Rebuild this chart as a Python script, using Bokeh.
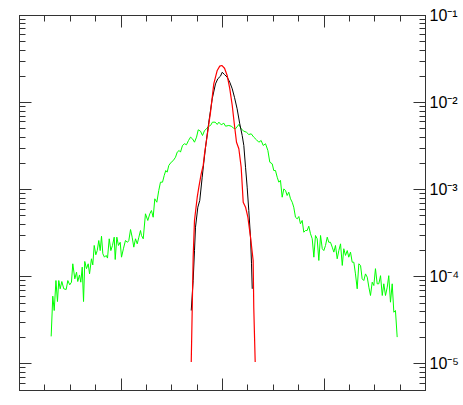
from bokeh.plotting import figure
from bokeh.models import (Range1d, LinearAxis, LogAxis, FixedTicker,
                          CustomJSTickFormatter)
from bokeh.embed import file_html
from bokeh.resources import INLINE

# ---- data ----
green_x = [-1.688, -1.672, -1.658, -1.641, -1.626, -1.613, -1.599, -1.583, -1.564, -1.540,
           -1.524, -1.505, -1.488, -1.475, -1.455, -1.438, -1.426, -1.409, -1.396, -1.382,
           -1.369, -1.357, -1.340, -1.323, -1.310, -1.291, -1.278, -1.264, -1.248, -1.234,
           -1.219, -1.205, -1.192, -1.179, -1.163, -1.146, -1.133, -1.116, -1.100, -1.084,
           -1.067, -1.057, -1.041, -1.025, -1.008, -0.995, -0.975, -0.956, -0.936, -0.923,
           -0.906, -0.890, -0.874, -0.857, -0.840, -0.824, -0.808, -0.798, -0.781, -0.759,
           -0.736, -0.716, -0.700, -0.683, -0.667, -0.647, -0.628, -0.611, -0.591, -0.574,
           -0.559, -0.545, -0.529, -0.505, -0.485, -0.463, -0.446, -0.427, -0.414, -0.394,
           -0.374, -0.355, -0.335, -0.315, -0.296, -0.276, -0.256, -0.239, -0.217, -0.197,
           -0.177, -0.158, -0.138, -0.118, -0.099, -0.072, -0.052, -0.036, -0.013, 0.013,
           0.030, 0.062, 0.086, 0.111, 0.128, 0.161, 0.184, 0.210, 0.236, 0.259,
           0.283, 0.308, 0.335, 0.358, 0.381, 0.401, 0.424, 0.447, 0.466, 0.490,
           0.505, 0.522, 0.539, 0.555, 0.571, 0.588, 0.604, 0.621, 0.637, 0.653,
           0.670, 0.687, 0.702, 0.719, 0.736, 0.752, 0.768, 0.785, 0.801, 0.818,
           0.834, 0.850, 0.867, 0.884, 0.900, 0.916, 0.933, 0.949, 0.966, 0.983,
           0.998, 1.015, 1.032, 1.047, 1.064, 1.081, 1.097, 1.113, 1.130, 1.146,
           1.163, 1.180, 1.195, 1.212, 1.229, 1.244, 1.261, 1.278, 1.294, 1.310,
           1.327, 1.343, 1.360, 1.376, 1.392, 1.409, 1.426, 1.442, 1.458, 1.475,
           1.491, 1.507, 1.524, 1.540, 1.557, 1.574, 1.589, 1.606, 1.623, 1.638,
           1.655, 1.672, 1.688, 1.704, 1.721]
green_y = [2.07e-5, 5.99e-5, 4.10e-5, 9.06e-5, 5.20e-5, 9.06e-5, 7.28e-5, 8.83e-5, 7.28e-5, 7.15e-5,
           9.06e-5, 8.09e-5, 8.67e-5, 1.41e-4, 9.48e-5, 1.13e-4, 8.83e-5, 1.05e-4, 8.67e-5, 1.29e-4,
           5.20e-5, 1.50e-4, 1.24e-4, 1.41e-4, 1.08e-4, 1.61e-4, 1.37e-4, 2.29e-4, 1.79e-4, 2.00e-4,
           2.61e-4, 2.00e-4, 2.92e-4, 1.84e-4, 1.68e-4, 1.76e-4, 1.64e-4, 2.73e-4, 2.00e-4, 2.29e-4,
           2.85e-4, 1.58e-4, 2.85e-4, 2.29e-4, 2.49e-4, 1.68e-4, 2.13e-4, 2.61e-4, 2.49e-4, 2.61e-4,
           3.49e-4, 2.85e-4, 2.19e-4, 2.73e-4, 2.39e-4, 2.85e-4, 3.40e-4, 2.98e-4, 2.73e-4, 5.29e-4,
           4.43e-4, 5.29e-4, 5.77e-4, 4.83e-4, 7.86e-4, 7.18e-4, 9.79e-4, 1.22e-3, 1.22e-3, 1.46e-3,
           1.66e-3, 1.59e-3, 1.90e-3, 2.07e-3, 2.16e-3, 2.36e-3, 2.70e-3, 2.82e-3, 2.70e-3, 3.22e-3,
           3.37e-3, 3.28e-3, 3.67e-3, 4.01e-3, 3.84e-3, 3.51e-3, 4.01e-3, 4.87e-3, 4.70e-3, 4.19e-3,
           4.78e-3, 5.00e-3, 5.32e-3, 5.46e-3, 5.96e-3, 5.96e-3, 5.61e-3, 5.96e-3, 5.56e-3, 5.80e-3,
           5.36e-3, 5.46e-3, 5.36e-3, 5.08e-3, 5.00e-3, 5.61e-3, 5.00e-3, 4.70e-3, 4.57e-3, 4.30e-3,
           4.38e-3, 4.01e-3, 3.74e-3, 3.51e-3, 3.67e-3, 3.22e-3, 3.37e-3, 2.82e-3, 2.07e-3, 1.98e-3,
           1.66e-3, 1.66e-3, 1.39e-3, 1.22e-3, 1.28e-3, 8.20e-4, 1.02e-3, 9.79e-4, 8.58e-4, 9.36e-4,
           7.86e-4, 7.18e-4, 6.30e-4, 4.83e-4, 4.63e-4, 4.92e-4, 4.06e-4, 4.43e-4, 3.25e-4, 3.40e-4,
           3.40e-4, 3.81e-4, 3.12e-4, 2.73e-4, 1.68e-4, 2.98e-4, 2.73e-4, 1.54e-4, 2.98e-4, 2.10e-4,
           2.00e-4, 2.29e-4, 2.85e-4, 2.49e-4, 2.49e-4, 2.19e-4, 1.92e-4, 2.29e-4, 1.61e-4, 2.00e-4,
           2.39e-4, 1.35e-4, 2.10e-4, 1.76e-4, 2.00e-4, 1.68e-4, 1.92e-4, 1.47e-4, 1.47e-4, 1.08e-4,
           7.28e-5, 1.41e-4, 1.35e-4, 9.48e-5, 9.06e-5, 1.08e-4, 9.90e-5, 7.60e-5, 6.10e-5, 8.67e-5,
           7.94e-5, 1.24e-4, 8.31e-5, 8.31e-5, 1.03e-4, 6.10e-5, 8.31e-5, 6.10e-5, 7.60e-5, 1.03e-4,
           5.11e-5, 8.31e-5, 3.92e-5, 4.10e-5, 2.03e-5]

black_x = [-0.308, -0.289, -0.276, -0.266, -0.243, -0.224, -0.200, -0.184, -0.167, -0.135,
           -0.101, -0.069, -0.046, -0.020, -0.003, 0.020, 0.046, 0.072, 0.096, 0.118,
           0.144, 0.170, 0.194, 0.210, 0.227, 0.243, 0.259, 0.276, 0.286, 0.293]
black_y = [4.10e-5, 9.06e-5, 2.00e-4, 3.71e-4, 6.30e-4, 7.52e-4, 1.39e-3, 2.07e-3, 3.08e-3, 5.96e-3,
           1.11e-2, 1.64e-2, 1.88e-2, 2.01e-2, 2.23e-2, 2.10e-2, 1.96e-2, 1.71e-2, 1.44e-2, 1.15e-2,
           8.49e-3, 5.71e-3, 4.19e-3, 3.22e-3, 1.81e-3, 1.07e-3, 5.77e-4, 2.85e-4, 1.41e-4, 7.28e-5]

red_x = [-0.308, -0.298, -0.289, -0.276, -0.249, -0.233, -0.210, -0.190, -0.177, -0.158,
         -0.118, -0.086, -0.052, -0.027, -0.007, 0.020, 0.046, 0.072, 0.096, 0.118,
         0.138, 0.161, 0.184, 0.204, 0.227, 0.250, 0.276, 0.302, 0.308, 0.322]
red_y = [1.05e-5, 4.48e-5, 1.68e-4, 4.43e-4, 8.20e-4, 1.07e-3, 1.52e-3, 1.90e-3, 2.58e-3, 3.67e-3,
         7.76e-3, 1.64e-2, 2.34e-2, 2.62e-2, 2.67e-2, 2.48e-2, 2.05e-2, 1.44e-2, 9.27e-3, 5.46e-3,
         3.51e-3, 2.95e-3, 1.81e-3, 7.18e-4, 6.30e-4, 4.83e-4, 2.85e-4, 1.54e-4, 4.48e-5, 1.05e-5]

x_major = [-2, -1, 0, 1, 2]
x_minor = [-2 + 0.25 * i for i in range(17)]
y_major = [1e-5, 1e-4, 1e-3, 1e-2, 1e-1]
y_minor = [m * 10.0 ** e for e in range(-6, -1) for m in range(2, 10)]

AX = "#333333"

p = figure(frame_width=406, frame_height=375, output_backend="svg", toolbar_location=None,
           x_range=Range1d(-2, 2), y_range=Range1d(4.95e-6, 0.1),
           y_axis_type="log", x_axis_location=None, y_axis_location=None,
           min_border_left=19, min_border_top=15, min_border_bottom=14,
           min_border_right=36)
p.xgrid.grid_line_color = None
p.ygrid.grid_line_color = None
p.outline_line_color = AX
p.outline_line_width = 1
p.background_fill_color = "white"
p.border_fill_color = "white"

blank = CustomJSTickFormatter(code="return '';")


def style(ax, labels=False):
    ax.major_tick_in = 12
    ax.major_tick_out = 0
    ax.minor_tick_in = 6
    ax.minor_tick_out = 0
    ax.axis_line_color = AX
    ax.major_tick_line_color = AX
    ax.minor_tick_line_color = AX
    ax.axis_line_width = 1
    if not labels:
        ax.formatter = blank
        ax.major_label_text_font_size = "1px"
        ax.major_label_standoff = 0


xt = FixedTicker(ticks=x_major, minor_ticks=x_minor)
yt = FixedTicker(ticks=y_major, minor_ticks=y_minor)

for loc in ("below", "above"):
    a = LinearAxis(ticker=xt)
    style(a)
    p.add_layout(a, loc)

la = LogAxis(ticker=yt)
style(la)
p.add_layout(la, "left")

fmt = CustomJSTickFormatter(code="""
const e = Math.round(Math.log10(tick));
const sup = {"-": "\\u207b", "0": "\\u2070", "1": "\\u00b9", "2": "\\u00b2", "3": "\\u00b3",
             "4": "\\u2074", "5": "\\u2075", "6": "\\u2076", "7": "\\u2077", "8": "\\u2078", "9": "\\u2079"};
return "10" + String(e).split("").map(c => sup[c]).join("");
""")
ra = LogAxis(ticker=yt, formatter=fmt)
style(ra, labels=True)
ra.major_label_text_font = "Liberation Sans"
ra.major_label_text_font_size = "16px"
ra.major_label_text_color = "black"
ra.major_label_standoff = 4
p.add_layout(ra, "right")

p.line(green_x, green_y, line_color="#00ff00", line_width=1)
p.line(black_x, black_y, line_color="black", line_width=1)
p.line(red_x, red_y, line_color="#ff0000", line_width=1.2)

open("out.html", "w").write(file_html(p, INLINE))
